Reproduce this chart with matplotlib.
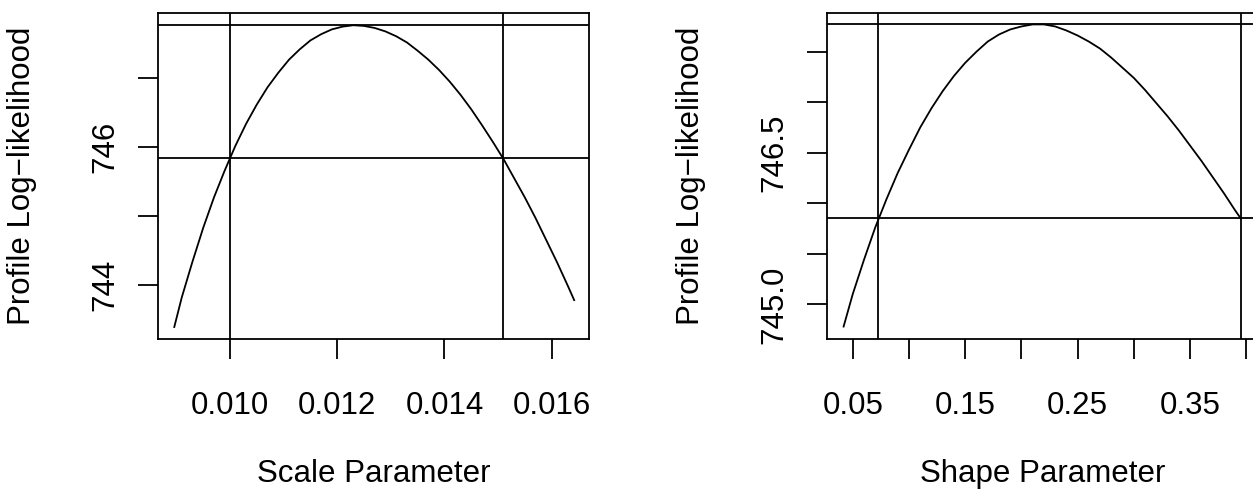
import matplotlib
matplotlib.use("Agg")
import matplotlib.pyplot as plt

plt.rcParams["font.family"] = ["Liberation Sans", "DejaVu Sans"]
plt.rcParams["font.size"] = 22.5

# profile log-likelihood for the scale parameter
scale_x = [0.00896, 0.0091, 0.0093, 0.0095, 0.0097, 0.0099, 0.0101, 0.0103,
           0.0105, 0.0107, 0.0109, 0.0111, 0.0113, 0.0115, 0.0117, 0.0119,
           0.0121, 0.0123, 0.0125, 0.0127, 0.0129, 0.0131, 0.0133, 0.0135,
           0.0137, 0.0139, 0.0141, 0.0143, 0.0145, 0.0147, 0.0149, 0.0151,
           0.0153, 0.0155, 0.0157, 0.0159, 0.0161, 0.0163, 0.01642]
scale_ll = [743.39, 743.82, 744.34, 744.83, 745.27, 745.66, 746.02, 746.34,
            746.62, 746.87, 747.08, 747.27, 747.42, 747.55, 747.64, 747.71,
            747.75, 747.77, 747.76, 747.73, 747.68, 747.61, 747.52, 747.40,
            747.27, 747.12, 746.95, 746.76, 746.55, 746.32, 746.08, 745.83,
            745.55, 745.27, 744.97, 744.65, 744.33, 743.99, 743.78]
scale_ci = [0.0100, 0.01510]
scale_levels = [747.77, 745.85]
scale_xticks = [0.010, 0.012, 0.014, 0.016]
scale_xlabels = ["0.010", "0.012", "0.014", "0.016"]
scale_yticks = [744, 745, 746, 747]
scale_ylabels = ["744", "", "746", ""]

# profile log-likelihood for the shape parameter
shape_x = [0.0419, 0.05, 0.06, 0.07, 0.08, 0.09, 0.10, 0.11, 0.12, 0.13,
           0.14, 0.15, 0.16, 0.17, 0.18, 0.19, 0.20, 0.21, 0.22, 0.23,
           0.24, 0.25, 0.26, 0.27, 0.28, 0.29, 0.30, 0.31, 0.32, 0.33,
           0.34, 0.35, 0.36, 0.37, 0.38, 0.39, 0.395]
shape_ll = [744.78, 745.10, 745.44, 745.76, 746.04, 746.30, 746.53, 746.75,
            746.94, 747.11, 747.26, 747.39, 747.50, 747.60, 747.67, 747.72,
            747.75, 747.77, 747.77, 747.75, 747.71, 747.66, 747.60, 747.53,
            747.44, 747.34, 747.24, 747.12, 746.99, 746.86, 746.72, 746.57,
            746.42, 746.26, 746.10, 745.93, 745.85]
shape_ci = [0.0726, 0.395]
shape_levels = [747.77, 745.85]
shape_xticks = [0.05, 0.10, 0.15, 0.20, 0.25, 0.30, 0.35, 0.40]
shape_xlabels = ["0.05", "", "0.15", "", "0.25", "", "0.35", ""]
shape_yticks = [745.0, 745.5, 746.0, 746.5, 747.0, 747.5]
shape_ylabels = ["745.0", "", "", "746.5", "", ""]

W, H = 1253, 492
fig = plt.figure(figsize=(W / 100, H / 100), dpi=100)


def panel(rect, x, y, ci, levels, xticks, xlabels, yticks, ylabels,
          xlim, ylim, xlabel):
    ax = fig.add_axes(rect)
    ax.plot(x, y, color="black", lw=1.3)
    for v in ci:
        ax.axvline(v, color="black", lw=1.3)
    for h in levels:
        ax.axhline(h, color="black", lw=1.3)
    ax.set_xlim(*xlim)
    ax.set_ylim(*ylim)
    ax.set_xticks(xticks)
    ax.set_xticklabels(xlabels)
    ax.set_yticks(yticks)
    ax.set_yticklabels(ylabels, rotation=90, va="center")
    for s in ax.spines.values():
        s.set_linewidth(1.3)
    ax.tick_params(axis="both", direction="out", length=14.4, width=1.3)
    ax.tick_params(axis="x", pad=23)
    ax.tick_params(axis="y", pad=12.8)
    ax.set_xlabel(xlabel)
    ax.set_ylabel("Profile Log\u2212likelihood")
    ax.xaxis.set_label_coords(0.5, -0.368)
    ax.yaxis.set_label_coords(-0.282, 0.5)
    return ax


ax_w = 431 / W
ax_b = (H - 339) / H
ax_h = (339 - 12.7) / H

panel([158.3 / W, ax_b, ax_w, ax_h], scale_x, scale_ll, scale_ci, scale_levels,
      scale_xticks, scale_xlabels, scale_yticks, scale_ylabels,
      (0.008662, 0.016702), (743.216, 747.952), "Scale Parameter")

panel([827.3 / W, ax_b, ax_w, ax_h], shape_x, shape_ll, shape_ci, shape_levels,
      shape_xticks, shape_xlabels, shape_yticks, shape_ylabels,
      (0.02741, 0.4106), (744.657, 747.886), "Shape Parameter")

fig.savefig("out.png", dpi=100)
